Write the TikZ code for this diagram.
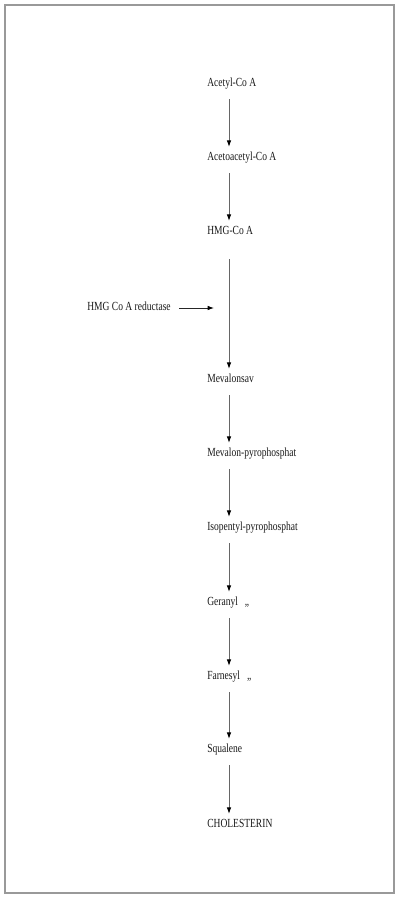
\documentclass[tikz,border=0pt]{standalone}
\usepackage{fontspec}
\setmainfont[FakeStretch=0.77]{Liberation Serif}
\usetikzlibrary{arrows.meta}
\tikzset{
  chem/.style={anchor=west, inner xsep=0pt, inner ysep=0pt,
    text height=6pt, text depth=2pt, minimum height=15.6pt,
    font=\fontsize{8.8}{10}\selectfont, text=black!90},
  flow/.style={-{Latex[length=4.5pt,width=3.2pt,color=black]}, draw=black!60,
    line width=0.5pt, shorten <=2.8pt},
}
\begin{document}
\begin{tikzpicture}[x=0.025cm,y=-0.025cm]
      \useasboundingbox (0,0) rectangle (400,900);
      \draw[black!40, line width=1.4pt] (5,5) rectangle (394,893);
      \coordinate (spine) at (229,0);
      \draw
        (207,84) node[chem] (acetyl){Acetyl-Co A}
        (207,158) node[chem] (acetoacetyl){Acetoacetyl-Co A}
        (207,232) node[chem] (hmg){HMG-Co A}
        (207,380) node[chem] (mevalonsav){Mevalonsav}
        (207,454) node[chem] (mevalonpp){Mevalon-pyrophosphat}
        (207,528) node[chem] (isopentyl){Isopentyl-pyrophosphat}
        (207,603) node[chem] (geranyl){Geranyl\hspace{5pt}„}
        (207,677) node[chem] (farnesyl){Farnesyl\hspace{5pt}„}
        (207,750) node[chem] (squalene){Squalene}
        (207,825) node[chem] (cholesterin){CHOLESTERIN}
        (171,308) node[chem, anchor=east] (reductase){HMG Co A reductase};
      \coordinate (gate) at (214,308);
      \begin{scope}[flow]
        \draw (acetyl.south -| spine) to (acetoacetyl.north -| spine);
        \draw (acetoacetyl.south -| spine) to (hmg.north -| spine);
        \draw[shorten <=11.4pt] (hmg.south -| spine) to (mevalonsav.north -| spine);
        \draw (mevalonsav.south -| spine) to (mevalonpp.north -| spine);
        \draw (mevalonpp.south -| spine) to (isopentyl.north -| spine);
        \draw (isopentyl.south -| spine) to (geranyl.north -| spine);
        \draw (geranyl.south -| spine) to (farnesyl.north -| spine);
        \draw (farnesyl.south -| spine) to (squalene.north -| spine);
        \draw (squalene.south -| spine) to (cholesterin.north -| spine);
        \draw[draw=black!85, line width=0.6pt, shorten <=6pt] (reductase.east) to (gate);
      \end{scope}
    \end{tikzpicture}
\end{document}
